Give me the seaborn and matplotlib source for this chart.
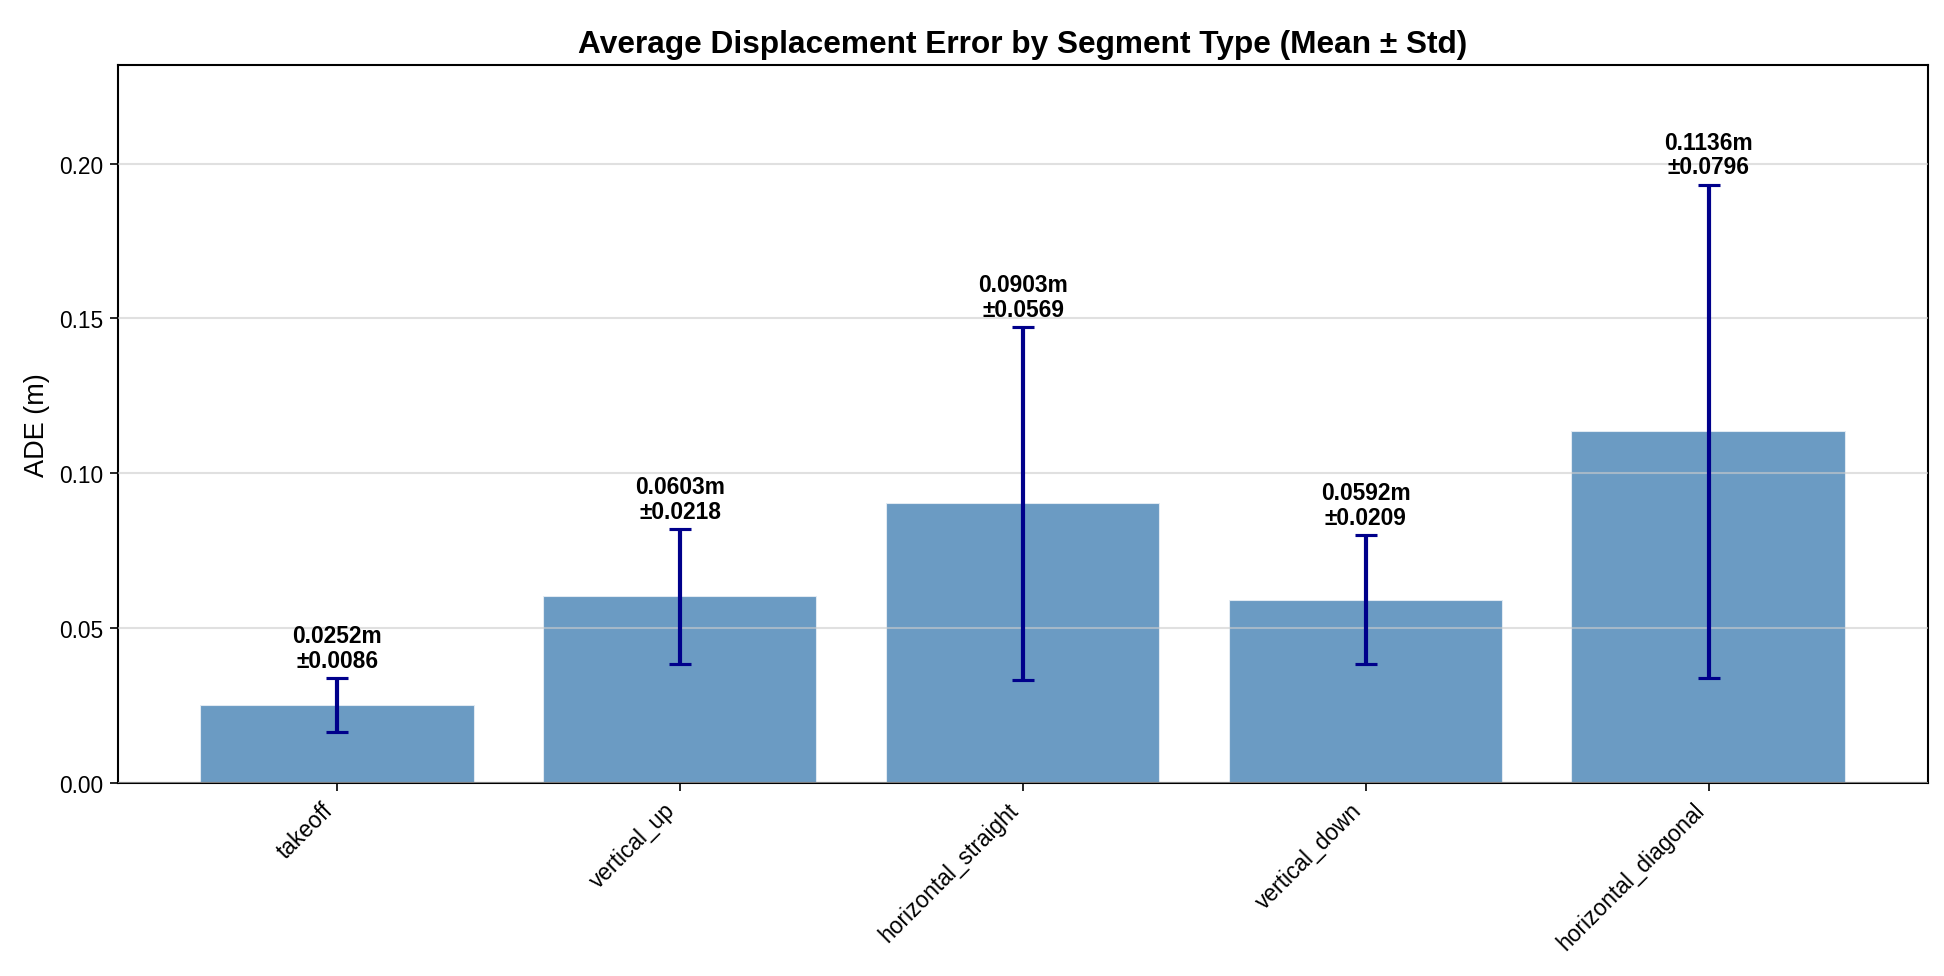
import matplotlib
matplotlib.use("Agg")
import matplotlib.pyplot as plt
import seaborn as sns
import pandas as pd

segments = ["takeoff", "vertical_up", "horizontal_straight", "vertical_down", "horizontal_diagonal"]
ade_mean = [0.0252, 0.0603, 0.0903, 0.0592, 0.1136]
ade_std = [0.0086, 0.0218, 0.0569, 0.0209, 0.0796]

sns.set_style("ticks")
plt.rcParams["font.family"] = ["Liberation Sans", "DejaVu Sans"]
plt.rcParams["text.color"] = "black"
plt.rcParams["axes.labelcolor"] = "black"
plt.rcParams["xtick.color"] = "black"
plt.rcParams["ytick.color"] = "black"

df = pd.DataFrame({"segment": segments, "mean": ade_mean, "std": ade_std})

fig = plt.figure(figsize=(12.96, 6.513), dpi=150)
ax = fig.add_axes([118 / 1944, 1 - 784 / 977, (1928 - 118) / 1944, (784 - 66) / 977])

sns.barplot(data=df, x="segment", y="mean", color="steelblue", alpha=0.8,
            width=0.8, errorbar=None, saturation=1, ax=ax, zorder=1)
x = list(range(len(segments)))
ax.errorbar(x, df["mean"], yerr=df["std"], fmt="none", ecolor="darkblue",
            elinewidth=2, capsize=5.5, capthick=1.5, zorder=3)

for xi, m, s in zip(x, ade_mean, ade_std):
    ax.text(xi, m + s + 0.002, f"{m:.4f}m\n±{s:.4f}", ha="center", va="bottom",
            fontsize=10.9, fontweight="bold", color="black", zorder=4,
            linespacing=1.1)

ax.set_xlim(-0.64, len(segments) - 1 + 0.64)
ax.set_ylim(0, max(m + s for m, s in zip(ade_mean, ade_std)) * 1.2)
ax.set_yticks([0.0, 0.05, 0.10, 0.15, 0.20])
ax.set_yticklabels(["0.00", "0.05", "0.10", "0.15", "0.20"])
ax.yaxis.grid(True, color="#cccccc", alpha=0.6, linewidth=1, zorder=2)
ax.set_axisbelow(False)
for sp in ax.spines.values():
    sp.set_visible(True)
    sp.set_color("black")
    sp.set_linewidth(1)
ax.tick_params(axis="both", labelsize=10.9, colors="black", length=3.8)
plt.setp(ax.get_xticklabels(), rotation=45, ha="right")
ax.set_xlabel("")
ax.set_ylabel("ADE (m)", fontsize=13)
ax.set_title("Average Displacement Error by Segment Type (Mean ± Std)",
             fontsize=15.2, fontweight="bold", pad=6)

fig.savefig("out.png", dpi=150)
